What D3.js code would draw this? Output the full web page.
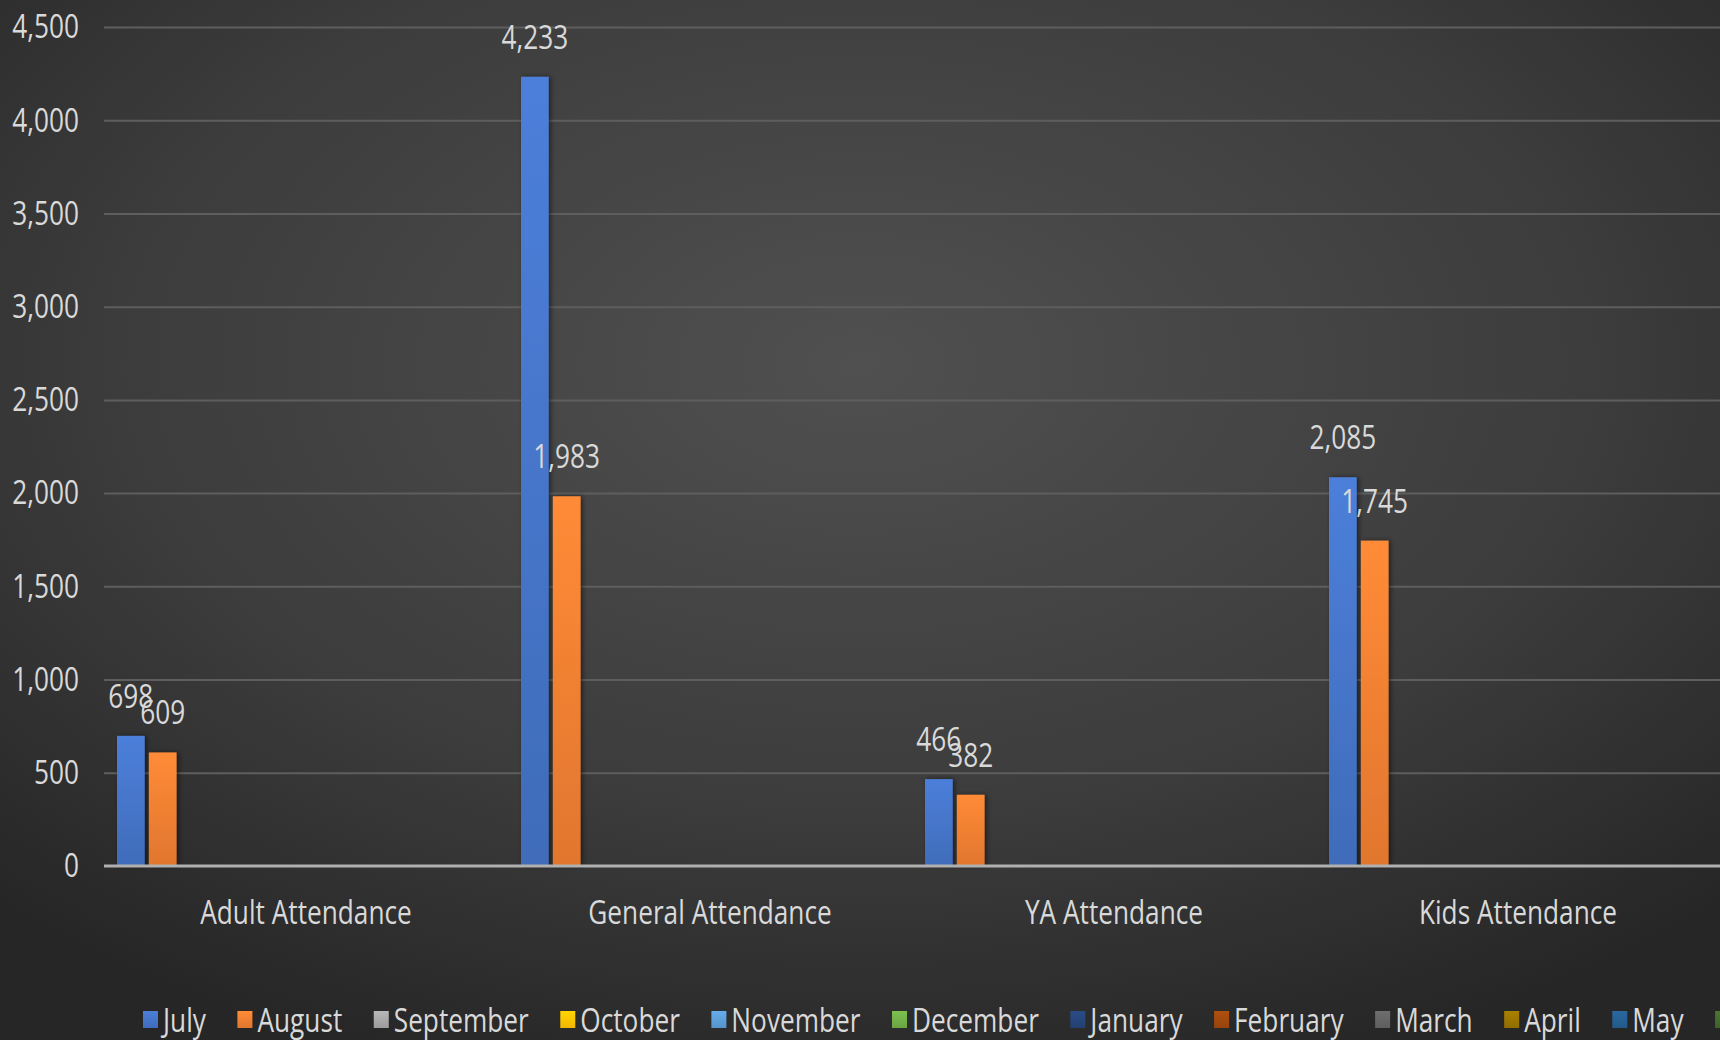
<!DOCTYPE html>
<html>
<head>
<meta charset="utf-8">
<script src="https://cdn.jsdelivr.net/npm/d3@7"></script>
<style>
  body { margin: 0; background: #2b2b2b; }
  svg { display: block; }
  text { font-family: "Open Sans", sans-serif; fill: #d9d9d9; }
</style>
</head>
<body>
<svg id="chart" width="1720" height="1040"></svg>
<script>
const categories = ["Adult Attendance", "General Attendance", "YA Attendance", "Kids Attendance"];
const months = ["July", "August", "September", "October", "November", "December",
                "January", "February", "March", "April", "May", "June"];
const julyValues = [698, 4233, 466, 2085];
const augustValues = [609, 1983, 382, 1745];
const monthColors = ["#4472C4", "#ED7D31", "#A5A5A5", "#FFC000", "#5B9BD5", "#70AD47",
                     "#264478", "#9E480E", "#636363", "#997300", "#255E91", "#43682B"];
const yTicks = [0, 500, 1000, 1500, 2000, 2500, 3000, 3500, 4000, 4500];

const seriesValues = { July: julyValues, August: augustValues };

// narrow look of the original font
const squeeze = 0.82;
const fontSize = 32;

const svg = d3.select("#chart");
const width = +svg.attr("width");
const height = +svg.attr("height");
const margin = { top: 27, right: 0, bottom: 174, left: 104 };

const defs = svg.append("defs");

// dark radial background
const bg = defs.append("radialGradient").attr("id", "bg")
  .attr("cx", "50%").attr("cy", "35%").attr("r", "72%");
bg.append("stop").attr("offset", "0%").attr("stop-color", "#505050");
bg.append("stop").attr("offset", "60%").attr("stop-color", "#3c3c3c");
bg.append("stop").attr("offset", "100%").attr("stop-color", "#262626");
svg.append("rect").attr("width", width).attr("height", height).attr("fill", "url(#bg)");

months.forEach((m, i) => {
  const c = d3.color(monthColors[i]);
  const g = defs.append("linearGradient").attr("id", "grad" + i)
    .attr("x1", 0).attr("y1", 0).attr("x2", 0).attr("y2", 1);
  g.append("stop").attr("offset", "0%").attr("stop-color", c.brighter(0.3));
  g.append("stop").attr("offset", "100%").attr("stop-color", c.darker(0.15));
});

const shadow = defs.append("filter").attr("id", "shadow")
  .attr("x", "-30%").attr("y", "-10%").attr("width", "160%").attr("height", "120%");
shadow.append("feDropShadow").attr("dx", 2).attr("dy", 0).attr("stdDeviation", 2.5)
  .attr("flood-color", "#000").attr("flood-opacity", 0.5);

const x0 = d3.scaleBand()
  .domain(categories)
  .range([margin.left, width - margin.right]);

const x1 = d3.scaleBand()
  .domain(months)
  .range([13, x0.bandwidth() - 13])
  .paddingInner(0.13);

const y = d3.scaleLinear()
  .domain([0, 4500])
  .range([height - margin.bottom, margin.top]);

// gridlines
svg.append("g")
  .attr("transform", `translate(${margin.left},0)`)
  .call(d3.axisLeft(y).tickValues(yTicks.slice(1)).tickSize(-(width - margin.left - margin.right)).tickFormat(""))
  .call(g => g.select(".domain").remove())
  .call(g => g.selectAll("line").attr("stroke", "#5e5e5e").attr("stroke-width", 2));

// y labels
svg.append("g")
  .attr("transform", `translate(${margin.left - 25},0)`)
  .call(d3.axisLeft(y).tickValues(yTicks).tickSize(0).tickPadding(0).tickFormat(d3.format(",")))
  .call(g => g.select(".domain").remove())
  .call(g => g.selectAll("text")
    .attr("font-size", fontSize).attr("fill", "#d9d9d9").attr("dy", "0.34em")
    .attr("transform", `scale(${squeeze},1)`));

// bars
const groups = svg.append("g").selectAll("g")
  .data(categories)
  .join("g")
  .attr("transform", d => `translate(${x0(d)},0)`);

const barData = ci => months
  .filter(m => seriesValues[m])
  .map(m => ({ month: m, value: seriesValues[m][ci] }));

groups.each(function(cat, ci) {
  const g = d3.select(this);
  const data = barData(ci);
  g.selectAll("rect")
    .data(data)
    .join("rect")
    .attr("x", d => x1(d.month))
    .attr("width", x1.bandwidth())
    .attr("y", d => y(d.value))
    .attr("height", d => y(0) - y(d.value))
    .attr("fill", d => `url(#grad${months.indexOf(d.month)})`)
    .attr("filter", "url(#shadow)");
  g.selectAll("text")
    .data(data)
    .join("text")
    .attr("transform", d => `translate(${x1(d.month) + x1.bandwidth() / 2},${y(d.value) - 28}) scale(${squeeze},1)`)
    .attr("text-anchor", "middle")
    .attr("font-size", fontSize)
    .text(d => d3.format(",")(d.value));
});

// zero axis line
svg.append("line")
  .attr("x1", margin.left).attr("x2", width - margin.right)
  .attr("y1", y(0)).attr("y2", y(0))
  .attr("stroke", "#b0b0b0").attr("stroke-width", 3);

// category labels
svg.append("g")
  .attr("transform", `translate(0,${y(0)})`)
  .call(d3.axisBottom(x0).tickSize(0).tickPadding(0))
  .call(g => g.select(".domain").remove())
  .call(g => g.selectAll("text")
    .attr("font-size", fontSize).attr("fill", "#d9d9d9").attr("y", 0).attr("dy", 58)
    .attr("transform", `scale(${squeeze},1)`));

// legend
const legend = svg.append("g").attr("transform", "translate(143,1020)");
let lx = 0;
months.forEach((m, i) => {
  const item = legend.append("g").attr("transform", `translate(${lx},0)`);
  item.append("rect").attr("x", 0).attr("y", -9).attr("width", 15).attr("height", 17)
    .attr("fill", `url(#grad${i})`);
  const t = item.append("text")
    .attr("transform", `translate(20,0) scale(${squeeze},1)`)
    .attr("dy", "0.36em")
    .attr("font-size", fontSize).text(m);
  lx += 20 + t.node().getComputedTextLength() * squeeze + 31.5;
});
</script>
</body>
</html>
